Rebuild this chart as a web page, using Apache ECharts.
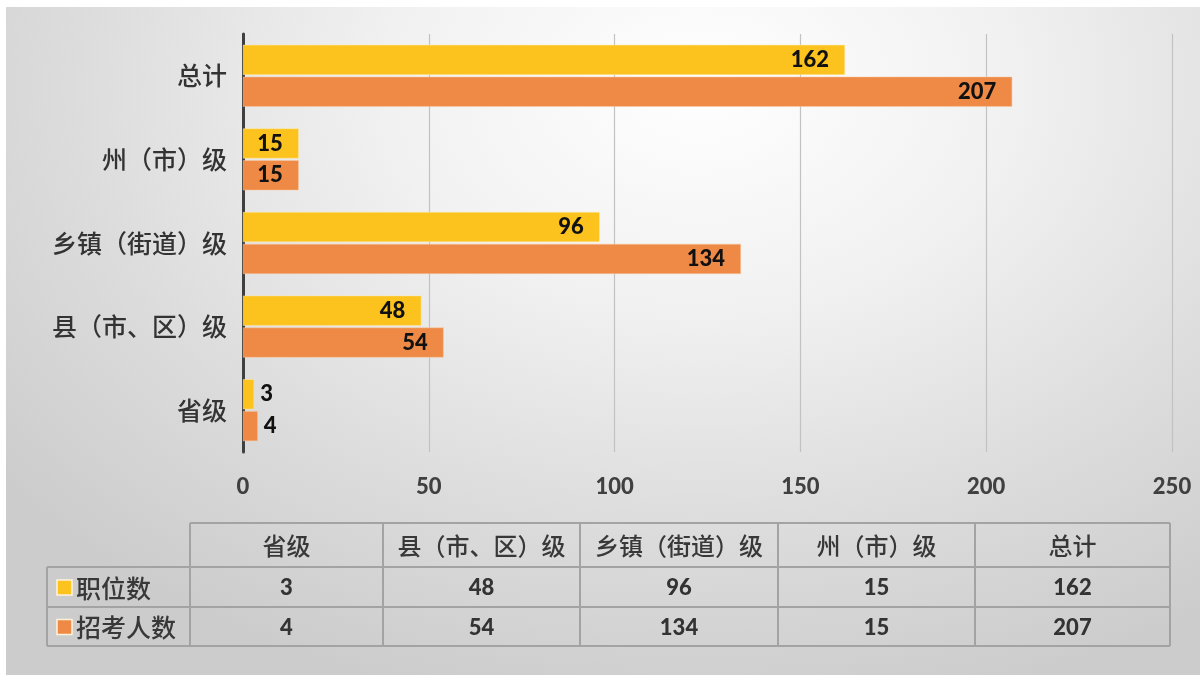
<!DOCTYPE html>
<html>
<head>
<meta charset="utf-8">
<script src="https://cdn.jsdelivr.net/npm/echarts@6/dist/echarts.min.js"></script>
<style>
  html, body { margin: 0; padding: 0; background: #ffffff; }
  #bg { position: absolute; left: 6px; top: 7px; width: 1194px; height: 668px;
        background: radial-gradient(ellipse 75% 95% at 58% 12%, #ffffff 0%, #f1f1f1 35%, #dcdcdc 70%, #cccccc 100%); }
  #main { position: absolute; left: 0; top: 0; width: 1200px; height: 675px; }
</style>
</head>
<body>
<div id="bg"></div>
<div id="main"></div>
<script>
// ---- data ----
const categories = ['省级', '县（市、区）级', '乡镇（街道）级', '州（市）级', '总计'];
const seriesNames = ['职位数', '招考人数'];
const positions = [3, 48, 96, 15, 162];      // 职位数
const applicants = [4, 54, 134, 15, 207];    // 招考人数
const xTicks = [0, 50, 100, 150, 200, 250];

// ---- styles ----
const colors = ['#FCC31E', '#EE8A45'];
const cjkFont = '"Noto Sans CJK SC", sans-serif';
const numFont = 'Lato, "Open Sans", sans-serif';

const chart = echarts.init(document.getElementById('main'), null, { renderer: 'canvas' });

function makeData(values) {
  return values.map(v => ({
    value: v,
    label: { position: v < 10 ? 'right' : 'insideRight', distance: v < 10 ? 6 : 16 }
  }));
}

// ---- table built from the arrays ----
const colEdges = [190, 383, 580, 778, 975, 1170];
const labelLeft = 47;
const rowEdges = [523, 567, 607, 646];
const lineColor = '#a3a3a3';
const tableEls = [];
function hline(x1, x2, y) {
  tableEls.push({ type: 'line', shape: { x1, y1: y, x2, y2: y }, style: { stroke: lineColor, lineWidth: 2 } });
}
function vline(x, y1, y2) {
  tableEls.push({ type: 'line', shape: { x1: x, y1, x2: x, y2 }, style: { stroke: lineColor, lineWidth: 2 } });
}
hline(colEdges[0], colEdges[colEdges.length - 1], rowEdges[0]);
for (let r = 1; r < rowEdges.length; r++) hline(labelLeft, colEdges[colEdges.length - 1], rowEdges[r]);
colEdges.forEach(x => vline(x, rowEdges[0], rowEdges[3]));
vline(labelLeft, rowEdges[1], rowEdges[3]);
// header texts
categories.forEach((c, i) => {
  tableEls.push({
    type: 'text',
    x: (colEdges[i] + colEdges[i + 1]) / 2, y: (rowEdges[0] + rowEdges[1]) / 2 + 1,
    style: { text: c, font: '500 24px ' + cjkFont, fill: '#383838', align: 'center', verticalAlign: 'middle' }
  });
});
// rows
[positions, applicants].forEach((vals, r) => {
  const yc = (rowEdges[r + 1] + rowEdges[r + 2]) / 2;
  tableEls.push({
    type: 'rect', shape: { x: labelLeft + 10, y: yc - 7, width: 15, height: 15 },
    style: { fill: colors[r], stroke: '#fff3dc', lineWidth: 1.5 }
  });
  tableEls.push({
    type: 'text', x: labelLeft + 29, y: yc + 1,
    style: { text: seriesNames[r], font: '500 25px ' + cjkFont, fill: '#383838', align: 'left', verticalAlign: 'middle' }
  });
  vals.forEach((v, i) => {
    tableEls.push({
      type: 'text',
      x: (colEdges[i] + colEdges[i + 1]) / 2, y: yc + 1,
      style: { text: String(v), font: '900 22px ' + numFont, fill: '#333333', align: 'center', verticalAlign: 'middle' }
    });
  });
});

const option = {
  backgroundColor: 'transparent',
  animation: false,
  grid: { left: 243, right: 28, top: 34, bottom: 223, containLabel: false },
  xAxis: {
    type: 'value', min: xTicks[0], max: xTicks[xTicks.length - 1], interval: 50,
    axisLine: { show: false }, axisTick: { show: false },
    splitLine: { show: true, lineStyle: { color: '#c2c2c2', width: 1.2 } },
    axisLabel: { color: '#404040', fontFamily: numFont, fontWeight: 900, fontSize: 22, margin: 24 }
  },
  yAxis: {
    type: 'category', data: categories,
    axisLine: { show: true, lineStyle: { color: '#3f3f3f', width: 3 } },
    axisTick: { show: false },
    axisLabel: { color: '#333333', fontFamily: cjkFont, fontWeight: 500, fontSize: 25, margin: 16 }
  },
  series: [
    {
      name: seriesNames[0], type: 'bar', data: makeData(positions),
      barCategoryGap: '26%', barGap: '6%',
      itemStyle: { color: colors[0], borderColor: '#ffe9a8', borderWidth: 0.5 },
      label: { show: true, color: '#111111', fontFamily: numFont, fontWeight: 900, fontSize: 22 }
    },
    {
      name: seriesNames[1], type: 'bar', data: makeData(applicants),
      barCategoryGap: '26%', barGap: '6%',
      itemStyle: { color: colors[1], borderColor: '#f8c9a5', borderWidth: 0.5 },
      label: { show: true, color: '#111111', fontFamily: numFont, fontWeight: 900, fontSize: 22 }
    }
  ],
  graphic: { elements: tableEls }
};
chart.setOption(option);
</script>
</body>
</html>
